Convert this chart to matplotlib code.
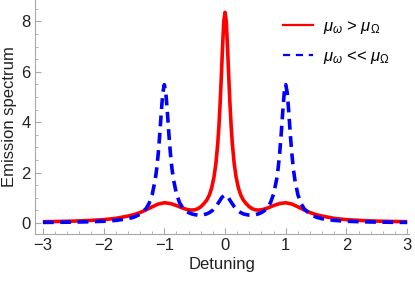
import matplotlib
matplotlib.use("Agg")
import matplotlib.pyplot as plt
from matplotlib.lines import Line2D
from matplotlib.ticker import MultipleLocator

plt.rcParams['font.family'] = ['Liberation Sans', 'DejaVu Sans']
plt.rcParams['font.size'] = 12
plt.rcParams['mathtext.fontset'] = 'custom'
plt.rcParams['mathtext.rm'] = 'Liberation Sans'
plt.rcParams['mathtext.it'] = 'Liberation Sans:italic'

# red curve (mu_w > mu_Omega)
xRed = [-3.0, -2.75, -2.5, -2.25, -2.0, -1.8, -1.6, -1.5, -1.4, -1.3, -1.2, -1.1, -1.0,
        -0.9, -0.8, -0.7, -0.65, -0.6, -0.55, -0.5, -0.45, -0.4, -0.35, -0.3, -0.26,
        -0.22, -0.18, -0.15, -0.12, -0.1, -0.08, -0.06, -0.04, -0.02, 0.0,
        0.02, 0.04, 0.06, 0.08, 0.1, 0.12, 0.15, 0.18, 0.22, 0.26, 0.3, 0.35, 0.4,
        0.45, 0.5, 0.55, 0.6, 0.65, 0.7, 0.8, 0.9, 1.0, 1.1, 1.2, 1.3, 1.4, 1.5,
        1.6, 1.8, 2.0, 2.25, 2.5, 2.75, 3.0]
yRed = [0.048, 0.058, 0.072, 0.095, 0.13, 0.18, 0.27, 0.33, 0.41, 0.52, 0.64, 0.75, 0.80,
        0.77, 0.69, 0.59, 0.55, 0.52, 0.51, 0.52, 0.56, 0.64, 0.76, 0.91, 1.10,
        1.39, 1.85, 2.37, 3.15, 3.87, 4.78, 5.87, 7.04, 8.01, 8.36,
        8.01, 7.04, 5.87, 4.78, 3.87, 3.15, 2.37, 1.85, 1.39, 1.10, 0.91, 0.76, 0.64,
        0.56, 0.52, 0.51, 0.52, 0.55, 0.59, 0.69, 0.77, 0.80, 0.75, 0.64, 0.52, 0.41, 0.33,
        0.27, 0.18, 0.13, 0.095, 0.072, 0.058, 0.048]

# blue curve (mu_w << mu_Omega)
xBlue = [-3.0, -2.75, -2.5, -2.25, -2.0, -1.8, -1.6, -1.5, -1.4, -1.3, -1.25, -1.2, -1.15,
         -1.125, -1.1, -1.075, -1.05, -1.025, -1.0, -0.975, -0.95, -0.925, -0.9, -0.875,
         -0.85, -0.8, -0.75, -0.7, -0.65, -0.6, -0.55, -0.5, -0.45, -0.4, -0.35, -0.3,
         -0.25, -0.2, -0.15, -0.1, -0.05, 0.0,
         0.05, 0.1, 0.15, 0.2, 0.25, 0.3, 0.35, 0.4, 0.45, 0.5, 0.55, 0.6, 0.65, 0.7,
         0.75, 0.8, 0.85, 0.875, 0.9, 0.925, 0.95, 0.975, 1.0, 1.025, 1.05, 1.075, 1.1,
         1.125, 1.15, 1.2, 1.25, 1.3, 1.4, 1.5, 1.6, 1.8, 2.0, 2.25, 2.5, 2.75, 3.0]
yBlue = [0.02, 0.025, 0.032, 0.045, 0.066, 0.10, 0.165, 0.23, 0.34, 0.57, 0.78, 1.12, 1.71,
         2.16, 2.76, 3.52, 4.40, 5.16, 5.49, 5.17, 4.40, 3.53, 2.77, 2.18,
         1.73, 1.15, 0.81, 0.61, 0.49, 0.41, 0.36, 0.33, 0.31, 0.31, 0.33, 0.36,
         0.42, 0.51, 0.65, 0.83, 1.02, 1.11,
         1.02, 0.83, 0.65, 0.51, 0.42, 0.36, 0.33, 0.31, 0.31, 0.33, 0.36, 0.41, 0.49, 0.61,
         0.81, 1.15, 1.73, 2.18, 2.77, 3.53, 4.40, 5.17, 5.49, 5.16, 4.40, 3.52, 2.76,
         2.16, 1.71, 1.12, 0.78, 0.57, 0.34, 0.23, 0.165, 0.10, 0.066, 0.045, 0.032, 0.025, 0.02]

labels = [r'$\mu_\omega$ > $\mu_\Omega$', r'$\mu_\omega$ << $\mu_\Omega$']

fig = plt.figure(figsize=(4.15, 2.81), dpi=100)
ax = fig.add_axes([35/415, 47.5/281, 374/415, 233.5/281])

ax.plot(xRed, yRed, color='#ff0000', lw=2.6, solid_joinstyle='round', solid_capstyle='butt')
ax.plot(xBlue, yBlue, color='#0000ff', lw=2.6, dashes=(3.0, 1.8), dash_capstyle='butt')

ax.set_xlim(-3.13, 3.03)
ax.set_ylim(-0.42, 8.85)
ax.xaxis.set_major_locator(MultipleLocator(1))
ax.xaxis.set_minor_locator(MultipleLocator(0.2))
ax.yaxis.set_major_locator(MultipleLocator(2))
ax.yaxis.set_minor_locator(MultipleLocator(0.5))

for s in ['top', 'right']:
    ax.spines[s].set_visible(False)
for s in ['left', 'bottom']:
    ax.spines[s].set_color('#a8a8a8')
    ax.spines[s].set_linewidth(0.8)
ax.tick_params(which='both', direction='in', color='#a8a8a8', labelcolor='#222222', labelsize=12)
ax.tick_params(which='major', length=4, width=0.8, pad=3)
ax.tick_params(which='minor', length=2.2, width=0.6)

ax.set_xlabel('Detuning', fontsize=12, color='#222222', labelpad=3)
ax.set_ylabel('Emission spectrum', fontsize=12, color='#222222', labelpad=3)

handles = [Line2D([], [], color='#ff0000', lw=1.6),
           Line2D([], [], color='#0000ff', lw=1.6, dashes=(3.2, 2.6))]
ax.legend(handles, labels, loc='upper left', bbox_to_anchor=(283/415, 1 - 19/281),
          bbox_transform=fig.transFigure, frameon=False, borderpad=0, borderaxespad=0,
          handlelength=1.8, handletextpad=0.6, labelspacing=0.75, fontsize=12)

fig.savefig('out.png', dpi=100)
